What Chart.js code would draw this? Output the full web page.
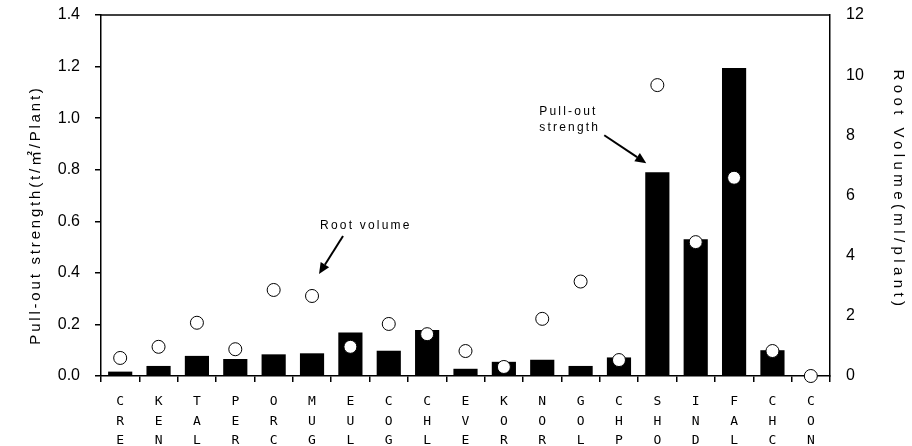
<!DOCTYPE html>
<html>
<head>
<meta charset="utf-8">
<script src="https://cdn.jsdelivr.net/npm/chart.js@4/dist/chart.umd.min.js"></script>
<style>
  html, body { margin: 0; padding: 0; background: #fff; }
  #wrap { width: 912px; height: 446px; }
</style>
</head>
<body>
<div id="wrap"><canvas id="chart"></canvas></div>
<script>
// species codes, drawn as stacked letters under each bar
const species = ["CRE", "KEN", "TAL", "PER", "ORC", "MUG", "EUL", "COG", "CHL", "EVE",
                 "KOR", "NOR", "GOL", "CHP", "SHO", "IND", "FAL", "CHC", "CON"];
// pull-out strength, t/m2/plant (left axis, bars)
const pullOut = [0.017, 0.039, 0.078, 0.066, 0.084, 0.088, 0.169, 0.098, 0.178, 0.028,
                 0.055, 0.063, 0.039, 0.072, 0.79, 0.53, 1.194, 0.10, 0];
// root volume, ml/plant (right axis, circles)
const rootVolume = [0.6, 0.97, 1.77, 0.89, 2.86, 2.66, 0.97, 1.73, 1.39, 0.83,
                    0.3, 1.9, 3.14, 0.53, 9.67, 4.45, 6.59, 0.83, 0];

const leftTitle = "Pull-out strength(t/\u33A1/Plant)";
const rightTitle = "Root Volume(ml/plant)";

const labels = species.map(s => s.split(""));

// axis titles and the two arrow notes, spaced out like the original print
const notes = {
    id: "notes",
    afterDraw(chart) {
        const ctx = chart.ctx;
        const area = chart.chartArea;
        const x = chart.scales.x, y = chart.scales.y, y2 = chart.scales.y2;

        ctx.save();
        // top edge of the frame
        ctx.strokeStyle = "#000";
        ctx.lineWidth = 1.5;
        ctx.beginPath();
        ctx.moveTo(area.left, area.top);
        ctx.lineTo(area.right, area.top);
        ctx.stroke();

        ctx.fillStyle = "#000";
        ctx.textAlign = "center";
        ctx.textBaseline = "middle";
        ctx.font = '15px "Liberation Sans", "Noto Sans CJK KR", sans-serif';

        ctx.save();
        ctx.letterSpacing = "2.8px";
        ctx.translate(36, 215);
        ctx.rotate(-Math.PI / 2);
        ctx.fillText(leftTitle, 0, 0);
        ctx.restore();

        ctx.save();
        ctx.letterSpacing = "4.4px";
        ctx.translate(898, 190);
        ctx.rotate(Math.PI / 2);
        ctx.fillText(rightTitle, 0, 0);
        ctx.restore();

        ctx.font = '12px "Liberation Sans", sans-serif';
        ctx.letterSpacing = "2.2px";
        ctx.textAlign = "left";

        // "Root volume" -> MUG circle
        const mug = species.indexOf("MUG");
        const tip1 = { x: x.getPixelForValue(mug) + 7, y: y2.getPixelForValue(rootVolume[mug]) - 22 };
        ctx.fillText("Root volume", tip1.x + 1, tip1.y - 48);
        arrow(ctx, tip1.x + 24, tip1.y - 38, tip1.x, tip1.y);

        // "Pull-out strength" -> SHO bar
        const sho = species.indexOf("SHO");
        const bar = chart.getDatasetMeta(1).data[sho];
        const tip2 = { x: bar.x - bar.width / 2 + 1, y: y.getPixelForValue(pullOut[sho]) - 9 };
        ctx.fillText("Pull-out", tip2.x - 107, tip2.y - 52);
        ctx.fillText("strength", tip2.x - 107, tip2.y - 36);
        arrow(ctx, tip2.x - 42, tip2.y - 28, tip2.x, tip2.y);

        ctx.restore();
    }
};

function arrow(ctx, x0, y0, x1, y1) {
    const a = Math.atan2(y1 - y0, x1 - x0);
    const len = 11, half = 5;
    const bx = x1 - len * Math.cos(a), by = y1 - len * Math.sin(a);
    ctx.strokeStyle = "#000";
    ctx.lineWidth = 2;
    ctx.beginPath();
    ctx.moveTo(x0, y0);
    ctx.lineTo(bx, by);
    ctx.stroke();
    ctx.beginPath();
    ctx.moveTo(x1, y1);
    ctx.lineTo(bx + half * Math.sin(a), by - half * Math.cos(a));
    ctx.lineTo(bx - half * Math.sin(a), by + half * Math.cos(a));
    ctx.closePath();
    ctx.fill();
}

// fixed frame: the tick padding should not push the plot top down
function fixVertical(width) {
    return scale => {
        scale.width = width;
        scale.paddingTop = 0;
        scale.paddingBottom = 0;
    };
}

new Chart(document.getElementById("chart"), {
    type: "bar",
    data: {
        labels: labels,
        datasets: [
            {
                type: "line",
                label: "Root volume",
                data: rootVolume,
                yAxisID: "y2",
                showLine: false,
                pointRadius: 6.5,
                pointBackgroundColor: "#fff",
                pointBorderColor: "#000",
                pointBorderWidth: 1,
                clip: false,
                order: 0
            },
            {
                label: "Pull-out strength",
                data: pullOut,
                yAxisID: "y",
                backgroundColor: "#000",
                barPercentage: 0.63,
                categoryPercentage: 1,
                order: 1
            }
        ]
    },
    options: {
        responsive: true,
        maintainAspectRatio: false,
        animation: false,
        layout: { padding: { top: 15, left: 0, right: 0, bottom: 0 } },
        plugins: { legend: { display: false }, tooltip: { enabled: false } },
        scales: {
            x: {
                offset: true,
                grid: { offset: true, drawOnChartArea: false, tickLength: 6, color: "#000", lineWidth: 1.5 },
                border: { display: true, color: "#000", width: 1.5 },
                ticks: {
                    color: "#000",
                    autoSkip: false,
                    maxRotation: 0,
                    padding: 10,
                    font: { family: '"DejaVu Sans Mono", monospace', size: 13, lineHeight: 1.5 }
                },
                afterFit(scale) {
                    scale.height = 70;
                    scale.paddingLeft = 0;
                    scale.paddingRight = 0;
                }
            },
            y: {
                position: "left",
                min: 0,
                max: 1.4,
                ticks: {
                    stepSize: 0.2,
                    color: "#000",
                    padding: 15,
                    font: { family: '"Liberation Sans", Arial, sans-serif', size: 16 },
                    callback: v => v.toFixed(1)
                },
                grid: { drawOnChartArea: false, tickLength: 6, color: "#000", lineWidth: 1.5 },
                border: { display: true, color: "#000", width: 1.5 },
                afterFit: fixVertical(101)
            },
            y2: {
                position: "right",
                min: 0,
                max: 12,
                ticks: {
                    stepSize: 2,
                    color: "#000",
                    padding: 16,
                    font: { family: '"Liberation Sans", Arial, sans-serif', size: 16 }
                },
                grid: { display: false, drawTicks: false },
                border: { display: true, color: "#000", width: 1.5 },
                afterFit: fixVertical(82)
            }
        }
    },
    plugins: [notes]
});
</script>
</body>
</html>
